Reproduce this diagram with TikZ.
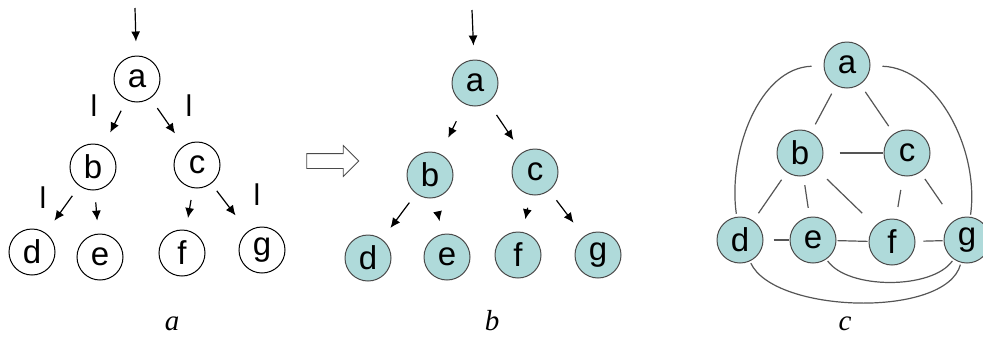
\documentclass[tikz,border=0pt]{standalone}
\usepackage{fontspec}
\setmainfont{Liberation Sans}
\newfontfamily\capfont{Liberation Serif}
\usepackage{xcolor}
\usepackage{tikz}
\usetikzlibrary{arrows.meta,positioning,shapes.arrows}
\definecolor{PaleTeal}{HTML}{AFDADA}
\definecolor{RimGray}{HTML}{4A4A4A}
\definecolor{LinkGray}{HTML}{555555}

\begin{document}
\begin{tikzpicture}[
  x=1pt, y=1pt,
  vtx/.style={circle, draw=black, line width=1pt, minimum size=46pt, inner sep=0pt,
              font=\fontsize{33}{34}\selectfont},
  vtxf/.style={vtx, draw=RimGray, fill=PaleTeal},
  arrow/.style={-{Latex[length=10pt,width=9pt]}, line width=1.2pt, shorten <=12pt, shorten >=15pt},
  entry/.style={-{Latex[length=10pt,width=9pt]}, line width=1.2pt, shorten >=14pt},
  link/.style={draw=LinkGray, line width=1.2pt, shorten <=9pt, shorten >=9pt},
  tickmark/.style={font=\fontsize{30}{32}\selectfont},
  panelname/.style={anchor=base, inner sep=0pt, font=\capfont\itshape\fontsize{29}{30}\selectfont}
]
\useasboundingbox (0,0) rectangle (983,-338);

% panel a
\node[vtx] (a1) at (137,-79) {a};
\node[vtx] (b1) at (93,-167) {b};
\node[vtx] (c1) at (197,-165) {c};
\node[vtx] (d1) at (32,-252) {d};
\node[vtx] (e1) at (100,-257) {e};
\node[vtx] (f1) at (182,-253) {f};
\node[vtx] (g1) at (262,-250) {g};
\coordinate (in1) at (135,-8);
\draw[entry] (in1) -- (a1);
\draw[arrow] (a1) -- (b1);
\draw[arrow] (a1) -- (c1);
\draw[arrow] (b1) -- (d1);
\draw[arrow, shorten >=13pt] (b1) -- (e1);
\draw[arrow, shorten >=12pt] (c1) -- (f1);
\draw[arrow, shorten <=9pt, shorten >=20pt] (c1) -- (g1);
\node[tickmark] (l1) at (94,-106) {l};
\node[tickmark] (l2) at (189,-106) {l};
\node[tickmark] (l3) at (43,-198) {l};
\node[tickmark] (l4) at (257,-195) {l};

% hollow arrow
\node[single arrow, draw=RimGray, line width=0.8pt, minimum height=52pt, inner sep=7pt,
      single arrow head extend=8pt] (imp) at (329,-161) {};

% panel b
\node[vtxf] (a2) at (475,-83) {a};
\node[vtxf] (b2) at (430,-175) {b};
\node[vtxf] (c2) at (535,-172) {c};
\node[vtxf] (d2) at (368,-258) {d};
\node[vtxf] (e2) at (447,-257) {e};
\node[vtxf] (f2) at (518,-255) {f};
\node[vtxf] (g2) at (598,-255) {g};
\coordinate (in2) at (472,-10);
\draw[entry] (in2) -- (a2);
\draw[arrow, shorten <=19pt, shorten >=18pt] (a2) -- (b2);
\draw[arrow, shorten <=15pt, shorten >=15pt] (a2) -- (c2);
\draw[arrow, shorten <=11pt, shorten >=14pt] (b2) -- (d2);
\draw[arrow, shorten <=19pt, shorten >=13pt] (b2) -- (e2);
\draw[arrow, shorten <=13pt, shorten >=13pt] (c2) -- (f2);
\draw[arrow, shorten <=12pt, shorten >=17pt] (c2) -- (g2);

% panel c
\node[vtxf] (a3) at (847,-65) {a};
\node[vtxf] (b3) at (800,-153) {b};
\node[vtxf] (c3) at (907,-153) {c};
\node[vtxf] (d3) at (740,-240) {d};
\node[vtxf] (e3) at (813,-240) {e};
\node[vtxf] (f3) at (892,-242) {f};
\node[vtxf] (g3) at (967,-240) {g};
\draw[link] (a3) -- (b3);
\draw[link] (a3) -- (c3);
\draw[link, shorten <=16pt, shorten >=1pt] (b3) -- (c3);
\draw[link] (b3) -- (d3);
\draw[link] (b3) -- (e3);
\draw[link, shorten <=14pt, shorten >=18pt] (b3) -- (f3);
\draw[link, shorten <=14pt, shorten >=12pt] (c3) -- (f3);
\draw[link, shorten <=8pt, shorten >=20pt] (c3) -- (g3);
\draw[link, shorten <=10pt, shorten >=1pt] (d3) -- (e3);
\draw[link, shorten <=1pt, shorten >=1pt] (e3) -- (f3);
\draw[link, shorten <=8pt, shorten >=1pt] (f3) -- (g3);
\draw[link, shorten <=12pt, shorten >=3pt] (a3) to[out=182, in=98, looseness=0.95] (d3);
\draw[link, shorten <=12pt, shorten >=2pt] (a3) to[out=-2, in=82, looseness=0.95] (g3);
\draw[link, shorten <=2pt, shorten >=2pt] (d3) to[out=-65, in=-105, looseness=0.7] (g3);
\draw[link, shorten <=2pt, shorten >=2pt] (e3) to[out=-55, in=-125, looseness=0.75] (g3);

% captions
\node[panelname] (na) at (172,-330) {a};
\node[panelname] (nb) at (492,-330) {b};
\node[panelname] (nc) at (845,-330) {c};
\end{tikzpicture}
\end{document}
